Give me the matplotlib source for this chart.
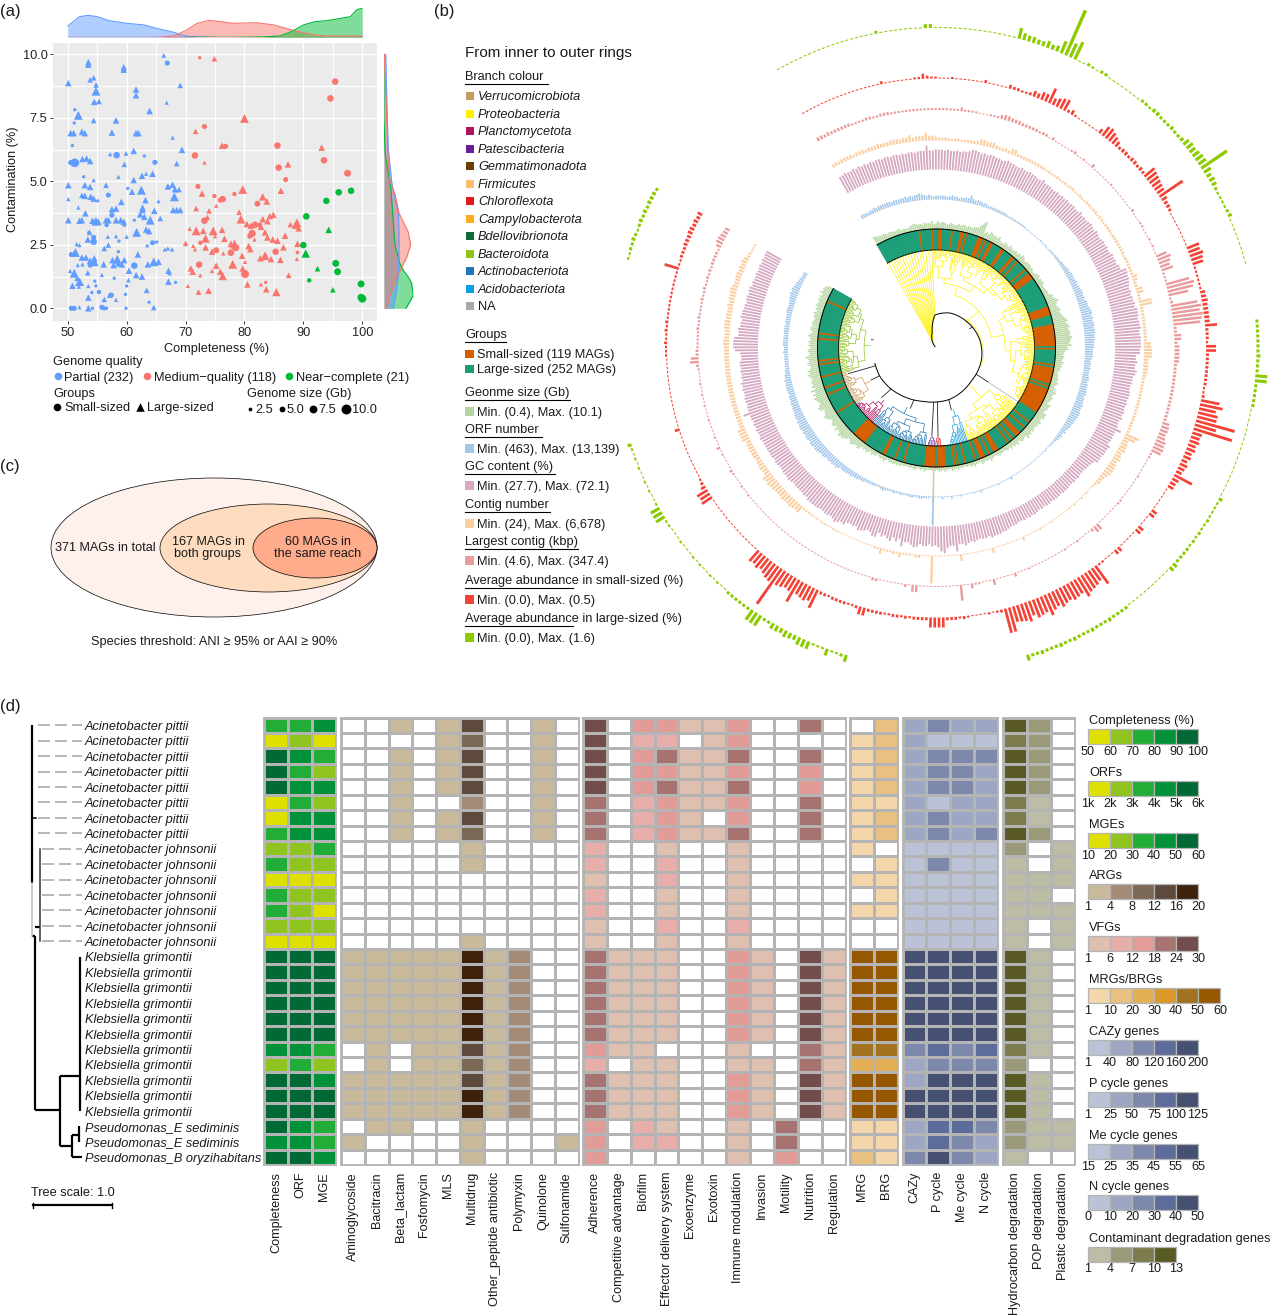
import itertools
import numpy as np
import matplotlib
matplotlib.use('Agg')
import matplotlib.pyplot as plt
from matplotlib.collections import LineCollection
from matplotlib.colors import ListedColormap, BoundaryNorm
from matplotlib.patches import Ellipse, Rectangle

plt.rcParams['font.family'] = ['Liberation Sans', 'DejaVu Sans']
W, H = 1270, 1315

# ---------- panel (a) data: x completeness, y contamination, s genome size (Gb) ----------
partial_tri_x = [53.5,53.5,53.8,54.4,54.8,54.8,54.5,55.3,50.1,59.5,59.5,61.6,61.6,66.3,69.1,66.8,63.9,51.8,54.4,58.2,57.5,50.5,51,52.4,52.9,61.6,62,67.8,69.4,61.2,59.9,57.2,52.5,53.2,53.8,68.5,59.6,58.6,54.4,61.2,62.6,63.3,64.4,50.1,52.9,53.8,56.5,52.4,52.9,53.9,54.4,50.1,60.9,62.5,67,67.8,68.2,68.9,68.1,63.2,65.4,59.1,51.8,53,57.5,58.2,62.7,62.7,64.7,67.9,68.5,69.1,63,62.3,64,65.7,50.1,52,52.4,54.2,54.8,55.2,56.5,56.9,58.2,59,59.5,59.6,53.7,61.7,63.3,63.8,53.4,58.2,56.8,60,51.5,52,56.9,56.2,66.5,67,67.7,51.3,61.9,52.4,53.1,53.8,54.5,54.5,52.5,51.7,56.1,57.6,57.8,58.4,58.6,59.6,59.2,63.6,64.6,65.4,60.4,67.1,67.3,50.4,51.1,53.4,55.8,61.6,62.6,60.3,51.6,52,50.8,51.9,53.5,67.1,63.4,57.1,56.2,58.2,53.5,52,53.5,64.6,68.5]
partial_tri_y = [9.7,9.6,9,9.08,8.8,8.55,8.13,8.15,8.87,9.5,9.4,8.62,8.39,9.96,8.78,8.1,7.77,7.6,7.4,7.4,6.92,6.9,6.9,6.95,6.9,6.9,6.9,6.72,6.24,6.2,6.1,6.07,5.88,5.9,5.8,5.7,5.67,5.18,5.05,5.05,5.22,5.3,5.3,4.85,4.85,4.78,4.85,4.45,4.43,4.39,4.32,4.3,4.59,4.65,4.8,4.87,4.69,4.68,4.39,4.26,4.22,4.19,3.97,3.74,3.9,3.93,3.96,3.87,3.84,3.87,3.87,3.87,3.6,3.7,3.47,3.54,3.47,3.45,3.47,3.45,3.43,3.41,3.47,3.47,3.47,3.47,3.41,3.3,2.99,2.99,3.1,3.04,2.71,2.84,2.82,2.82,2.53,2.49,2.49,2.36,2.32,2.36,2.32,2.2,2.12,2,2,1.87,1.97,1.83,1.73,1.7,1.73,1.9,1.7,1.93,1.77,1.9,1.73,1.73,1.83,1.83,1.48,1.48,1.38,1.47,1.38,1.4,1.31,1.31,1.25,1.11,1.18,1.05,.89,.85,.88,1.05,.71,.52,.35,.33,.42,.04,0,.03,0]
partial_tri_s = [5,5,4,4,4,7.5,5,4,5,5,5,5,5,3,4,2.5,5,7.5,4,5,5,5,5,5,5,5,5,2.5,5,5,3,2.5,5,5,5,4,4,2.5,2.5,5,5,2.5,5,5,5,5,4,4,5,5,5,2.5,5,7.5,5,5,5,4,7.5,5,2.5,5,2.5,5,5,5,5,5,5,5,5,5,5,5,7.5,4,5,5,5,5,7.5,5,5,5,5,5,5,2.5,4,7.5,5,5,5,2.5,2.5,2.5,2.5,2.5,4,4,2.5,2.5,2.5,7.5,5,5,5,5,5,7.5,2.5,2.5,5,5,5,7.5,5,5,5,5,7.5,5,5,5,2.5,2.5,7.5,4,2.5,5,5,3,4,7.5,5,2.5,2.5,5,4,4,4,2.5,5,2.5,5,4]
partial_dot_x = [66.9,51.2,51.1,50.8,58.3,63,50.5,51.2,50.9,64.8,52.7,56.9,60.2,55.1,57.5,61.3,56.6,54.4,54.4,64.4,65.1,58.7,63.5,58.6,50.6,61.3,53.8,57.9,54.6,68.3,60,54.8,54.1,55.3,57.4,59.8,63.8,50.6,51.1,54.2,55.8,56.2,56.6,59.9,53.6]
partial_dot_y = [9.66,7.82,7.3,6.41,6.03,6,5.74,5.73,5.73,5.75,5.18,4.46,4.72,4.23,3.67,3.47,3.28,2.79,2.62,2.58,2.61,2.65,2.45,2.23,2.12,1.68,1.7,1.18,1.07,1.02,.88,.88,.62,.64,.52,.55,.24,0,0,0,.04,0,0,0,2.99]
partial_dot_s = [5,2.5,2.5,2.5,7,2.5,5,10,5,5,2.5,5,2.5,2.5,5,2.5,4,5,7,5,2.5,2.5,2.5,2.5,5,7,5,2.5,2.5,2.5,2.5,2.5,2.5,4,5,2.5,2.5,5,5,2.5,5,4,2.5,2.5,2.5]
medium_tri_x = [74.9,80,71.7,76.2,93.1,73.2,87.4,79.7,86.2,72.8,83.1,83.8,75.2,71.8,74,79.1,84.9,84.3,73.7,79.4,83.1,83.9,87.8,88.9,88.6,80.4,81.1,82.8,89.2,70.7,71.8,73,74.7,76.2,83.5,83.9,75,73.4,76.6,81.7,84.8,85.6,86.9,70,71.3,77.7,78.3,89,80.7,86.6,73.4,71.6,81,74.5,75.3,76.4,79.6,83.5,82.7,84.5,86.1,88.9,80.1,78,75.2,79.7,70.9,71.2,74.5,75.9,76.3,72.5,87.5,80.5,82.8,70.4,83.7,73.9,72.2,85.4]
medium_tri_y = [9.83,7.48,6.97,6.41,6.33,5.74,5.67,4.68,4.63,4.52,4.39,4.21,4.04,3.93,3.84,3.79,3.68,3.63,3.58,3.51,3.51,3.43,3.3,3.37,3.25,3.32,3.25,3.21,3.15,3.13,3.05,3.05,3.05,3.09,2.99,2.79,2.84,2.75,2.74,2.71,2.71,2.66,2.86,2.56,2.46,2.54,2.53,2.54,2.45,2.4,2.4,2.32,2.33,2.23,2.29,2.16,2.07,2.07,1.97,1.94,1.91,1.94,1.83,1.73,1.68,1.57,1.57,1.44,1.47,1.44,1.27,1.3,1.3,.94,.94,.88,.75,.69,.64,.64]
medium_tri_s = [4,7.5,4,5,5,2.5,5,7.5,5,5,6,5,2.5,4,4,4,5,5,4,7.5,5,5,4,7.5,5,5,5,5,5,2.5,7.5,5,7.5,5,5,5,2.5,7,5,2.5,5,5,5,4,2.5,5,7.5,5,5,5,5,2.5,5,5,2.5,2.5,5,7.5,5,5,5,2.5,2.5,7.5,5,5,5,5,2.5,5,7,2.5,4,5,2.5,2.5,5,5,4,7]
medium_dot_x = [72.4,95.4,94.6,73.2,76.8,85.6,71.6,93.5,85.8,97.5,87,72.1,74.9,78.3,75.9,76.3,82.2,73.2,81.8,82.6,81.3,80.9,72.5,78.5,77.7,75.2,85.3,89,72.3,80.1,83.6]
medium_dot_y = [9.87,8.93,8.27,7.16,6.38,6.41,6.02,5.83,5.54,5.32,5.07,4.8,4.42,4.5,4.26,4.3,4.12,3.45,3.29,3.28,2.95,2.84,2.58,2.39,2.19,2.29,2.23,2.2,1.72,1.35,1.02]
medium_dot_s = [2.5,7,7,5,5,7,7,7,7,7.5,5,5,4,4,5,7,6,7,7,5,8,5,4,8,7,6,7,3,7,9,2.5]
near_dot_x = [96,98.1,93.9,90.5,90,95.5,95.8,91,99.8,99.8,100]
near_dot_y = [4.57,4.63,4.23,3.62,2.49,1.77,1.44,1.1,.96,.43,.38]
near_dot_s = [7,7,7,7,7,7.5,7.5,4,7.5,8,9]
near_tri_x = [94.3,90.4,92.4,95]
near_tri_y = [3.09,2.16,1.56,.73]
near_tri_s = [5,7,4,4]

top_partial_x = [50,52,53.5,55,57,60,63,65,67,68,70,72,75]
top_partial_d = [34,62,66,62,50,42,37,27,19,15,4,1,0]
top_medium_x = [50,64,66,68,70,72,74,76,78,82,85,88,90,92,94,100]
top_medium_d = [0,0,1,4,20,42,51,47,42,44,37,22,14,7,4,4]
top_near_x = [70,78,83,86,88,90,92,94,96,98,99,100]
top_near_d = [0,0,1,4,17,37,47,50,56,62,82,88]
right_y = [0,.5,1,1.25,1.5,1.75,2,2.5,3,3.75,4.5,5,6,6.25,7.5,10]
right_partial_d = [28,35,40,43,44,44,45,45,45,43,30,23,15,13,10,5]
right_medium_d = [8,18,32,38,50,58,68,80,73,45,33,18,12,11,8,1]
right_near_d = [66,88,83,72,58,48,43,33,30,26,22,18,4,3,0,0]

# ---------- panel (b) ring data (one value per leaf, clockwise) ----------
genome_size = [9,8,7,7,6,7,6,5,6,6,5,5,5,6,5,4,5,4,4,5,6,7,7,6,6,6,5,7,6,6,6,8,5,6,8,6,7,7,6,5,
 6,7,6,5,6,7,6,7,7,6,7,7,6,8,8,9,12,15,17,6,8,6,9,9,7,8,7,9,6,5,5,7,6,5,8,6,5,6,7,5,
 7,6,8,7,5,5,6,6,6,5,6,4,4,5,6,7,5,6,6,7,5,4,5,5,6,5,7,9,8,10,12,10,8,9,10,11,9,10,11,12,
 14,15,13,15,16,14,15,16,15,17,16,15,14,16,12,13,10,9,8,9,8,7,9,7,8,6,7,5,5,6,6,7,6,8,6,5,7,6,9,7,
 6,8,7,6,5,9,8,8,7,6,10,9,10,7,8,10,8,9,7,8,9,7,9,8,10,6,7,8,7,5,8,6,7,5,7,5,6,5,4,5,
 5,6,5,4,4,5,7,4,5,4,5,6,3,4,4,6,4,5,3,4,3,3,4,3,5,3,4,5,3,3,4,5,3,4,5,3,4,36,4,3,
 3,4,5,3,4,3,3,5,4,3,4,3,3,4,3,5,4,5,4,5,4,5,3,4,6,4,5,4,3,5,5,6,4,5,7,5,6,5,8,9,
 7,8,9,10,8,7,9,10,12,11,13,10,9,12,8,10,11,9,8,10,12,13,11,10,9,13,14,12,10,11,12,14,11,13,10,14,9,12,10,11,
 10,9,11,13,10,12,9,8,10,11,9,10,12,9,8,10,9,7,9,8,9,7,8,10,8,6,8,9,7,8,8,7,6,8,7,9,6,8,7,9,
 8,7,9,8,9,7,10,8,9,8,6]
orf_number = [4,4,4,3,4,4,5,4,5,5,5,5,5,5,4,5,5,5,5,5,6,5,6,5,6,6,7,6,5,4,5,4,3,4,4,4,4,4,3,4,
 5,4,4,3,4,4,5,5,8,5,4,5,5,4,4,4,3,3,3,3,3,3,3,3,3,2,2,2,2,2,2,2,2,2,2,1,1,1,1,1,
 1,1,1,2,1,1,2,1,1,2,2,2,3,3,3,3,4,4,4,5,5,5,6,6,6,6,7,6,7,7,8,8,7,8,7,9,9,9,10,11,
 11,10,11,10,11,11,10,11,11,10,10,10,9,9,9,8,8,8,8,7,6,7,6,7,6,6,6,7,7,6,7,7,7,8,8,7,8,8,8,9,
 8,8,9,9,9,8,8,8,7,7,6,5,6,4,5,4,4,3,2,2,2,1,1,2,1,1,1,1,1,1,1,1,1,1,1,1,1,1,1,1,
 1,1,3,1,1,1,1,1,2,1,1,1,1,1,1,1,3,1,1,2,1,1,1,1,1,2,1,1,1,3,1,1,1,3,1,1,1,29,1,2,
 2,2,3,3,2,2,3,3,2,2,2,3,2,2,3,2,2,2,3,4,3,2,2,3,3,3,3,3,4,4,4,5,5,5,6,5,6,6,6,5,
 7,8,7,8,7,8,7,8,9,8,9,10,10,9,10,10,9,10,10,9,10,9,10,10,9,10,8,9,9,8,8,8,7,8,7,7,7,6,7,7,
 7,7,6,7,6,6,5,5,4,4,4,4,4,4,4,5,4,4,5,5,5,5,4,5,5,5,5,4,5,5,5,5,6,6,6,5,6,6,7,7,
 8,7,8,7,6,6,5,5,4,4,4]
gc_content = [18,18,19,18,18,19,18,19,18,19,18,19,18,19,19,18,19,19,18,19,19,18,19,18,19,19,18,19,19,19,24,19,19,20,20,20,19,20,19,19,
 20,19,20,20,21,23,23,22,21,22,21,22,22,21,21,20,21,22,21,21,20,20,21,20,20,21,20,20,19,19,21,19,19,19,18,18,19,18,19,18,
 19,18,19,19,18,18,20,18,19,18,19,20,19,18,20,19,18,19,20,19,20,19,19,21,20,21,20,22,22,27,27,26,26,25,24,23,24,23,24,24,
 25,24,26,26,26,25,26,26,27,25,25,26,26,26,26,25,25,21,21,23,21,21,23,22,20,20,20,19,19,20,20,20,19,20,19,19,20,19,20,18,
 18,19,24,19,19,19,19,18,21,20,20,20,19,19,19,16,15,14,14,13,13,13,14,13,14,13,13,14,14,14,13,14,14,14,13,14,14,13,14,13,
 14,15,14,15,14,15,14,14,15,15,15,16,17,17,18,18,18,19,17,18,18,17,18,19,18,19,21,19,19,26,20,20,22,27,25,21,19,20,18,20,
 20,18,21,22,20,18,18,23,16,19,16,20,18,16,18,15,20,20,17,16,18,19,20,17,18,17,18,21,20,22,23,21,20,21,21,20,20,21,21,21,
 21,21,19,20,19,19,19,19,18,19,20,19,19,19,18,18,19,19,18,19,19,19,19,19,19,19,20,19,19,20,19,20,19,20,20,26,20,20,19,20,
 20,19,19,20,19,20,18,19,18,19,18,19,19,17,17,18,23,25,25,25,24,20,20,21,19,19,18,20,19,19,18,18,17,18,18,17,18,18,16,17,
 16,16,17,16,16,17,16,17,16,17,17]
contig_number = [3,4,3,4,4,4,4,3,4,4,4,3,4,4,4,5,4,4,4,5,5,5,4,5,5,7,4,5,5,5,8,5,5,4,3,3,3,3,2,3,
 3,2,3,3,3,3,4,6,6,5,5,6,4,3,3,4,3,6,6,3,3,3,3,3,3,3,3,3,3,2,3,2,2,3,2,2,3,2,3,3,
 2,2,3,2,2,3,3,2,3,3,2,3,3,2,3,3,3,2,3,3,3,3,3,3,3,2,3,3,3,3,3,3,6,5,3,3,7,7,3,3,
 13,13,3,3,3,3,3,3,3,3,3,3,3,7,7,8,8,8,5,5,5,5,5,4,3,3,3,3,3,3,3,3,3,3,3,3,3,3,3,3,
 3,3,15,12,6,7,7,8,6,7,8,6,7,8,8,8,6,5,4,5,3,2,1,1,2,1,2,1,1,2,1,2,1,1,1,1,1,1,2,1,
 1,1,2,1,1,1,1,1,4,1,1,1,1,1,1,1,1,1,5,1,1,1,1,1,1,1,1,1,7,1,1,1,1,1,1,1,1,28,1,1,
 1,3,3,1,2,2,2,5,2,3,2,2,2,6,2,2,1,1,1,1,1,1,1,1,1,1,1,1,2,2,1,1,2,2,1,2,1,2,2,2,
 2,8,7,8,9,8,8,9,8,8,8,9,9,10,9,10,6,6,7,6,6,5,6,6,6,6,6,5,8,8,8,8,5,5,5,5,5,5,5,5,
 5,5,5,5,5,5,5,5,5,5,5,5,5,5,5,5,5,5,6,6,5,5,5,6,6,6,5,6,5,5,6,5,6,6,7,7,6,5,5,6,
 6,5,6,5,6,5,3,3,2,2,2]
largest_contig = [4,4,3,4,3,3,3,3,3,3,2,2,2,2,3,3,2,2,3,3,3,2,2,2,2,2,2,2,2,2,2,2,2,2,2,2,2,2,2,2,
 4,2,2,2,2,1,1,1,2,2,2,4,5,5,4,4,4,3,3,3,3,3,2,3,3,1,3,1,1,1,1,1,2,3,1,1,2,1,1,4,
 1,1,1,1,1,1,2,1,1,1,1,1,1,1,1,3,1,1,1,2,2,1,1,1,2,1,2,1,1,11,14,12,10,12,2,2,2,24,28,26,
 20,2,3,27,30,28,31,29,27,3,3,7,7,3,5,5,5,5,5,3,3,3,3,3,3,3,3,3,3,3,3,3,3,3,3,7,8,8,7,8,
 10,10,11,10,2,2,1,1,1,1,1,2,1,1,1,1,1,1,1,2,2,1,1,1,1,1,1,1,7,7,3,1,1,1,1,2,1,1,1,2,
 1,1,1,1,1,1,1,1,1,1,2,1,1,1,4,1,1,1,1,1,6,1,1,1,2,2,5,1,1,16,1,1,1,1,1,1,1,1,1,1,
 1,7,7,1,3,1,1,1,1,1,1,1,3,3,1,1,1,1,1,1,1,1,1,1,1,1,1,1,1,1,1,1,1,1,1,1,1,1,1,1,
 1,1,1,1,1,1,1,1,1,1,1,1,1,1,2,1,1,2,1,1,1,2,3,1,1,1,1,2,1,4,1,1,2,1,1,1,1,2,1,1,
 1,2,1,1,2,1,1,2,1,1,1,2,3,9,8,3,3,2,2,2,2,2,3,2,2,3,2,2,2,2,3,2,2,3,2,2,3,2,3,2,
 3,3,3,3,2,5,7,7,6,5,5]
abund_small = [1,1,1,1,1,1,1,1,1,1,1,1,1,1,1,1,1,1,1,1,3,1,1,1,1,1,1,1,2,2,5,3,2,2,1,1,1,2,1,1,
 1,1,1,1,1,3,1,1,1,1,1,4,3,3,2,2,3,6,5,8,8,16,7,9,11,12,3,5,2,1,1,1,1,1,1,5,11,12,10,8,
 6,3,4,4,3,4,4,3,4,3,13,12,11,10,9,8,28,6,4,4,3,1,1,1,1,1,1,1,1,1,13,12,14,12,11,2,2,2,2,2,
 2,5,5,6,5,5,5,5,5,12,3,3,3,2,10,10,3,3,3,3,3,3,3,3,2,2,3,19,23,17,20,20,40,22,40,10,9,10,8,9,
 7,8,6,8,7,6,20,7,6,6,1,1,1,1,1,1,6,6,1,1,1,6,6,1,1,1,1,1,5,5,1,1,1,2,2,22,15,17,18,19,
 22,16,17,18,16,17,19,16,18,22,17,18,19,15,20,18,17,16,25,25,3,2,1,2,1,1,1,1,2,3,2,3,3,3,10,10,10,10,3,3,
 3,3,2,3,2,3,3,2,2,3,3,3,3,8,8,3,2,2,3,3,3,3,2,3,3,20,14,16,15,14,25,15,14,16,17,43,18,17,15,13,
 15,13,14,1,1,1,1,1,1,1,1,1,1,1,1,1,1,1,1,12,11,12,5,3,2,1,1,1,1,1,1,1,1,1,1,1,1,5,1,1,
 1,1,1,1,1,1,1,1,1,1,1,1,1,1,1,2,2,2,3,2,2,3,2,3,2,2,2,2,2,2,2,2,2,2,2,2,15,2,2,3,
 3,3,4,4,4,5,5,4,5,4,5]
abund_large = [1,1,1,1,1,1,1,1,1,1,1,1,1,1,1,1,1,1,1,1,1,3,1,1,1,1,1,1,1,1,1,4,4,1,1,1,1,1,1,1,
 1,1,1,1,1,1,1,1,1,1,11,7,6,6,5,5,7,5,6,13,49,15,19,1,1,3,2,1,3,3,1,1,1,1,1,1,1,1,3,3,
 2,4,4,3,3,3,4,3,3,4,7,8,7,8,9,9,31,8,5,6,5,3,2,2,2,2,3,4,1,1,1,1,1,1,1,1,1,1,0,0,
 0,0,0,0,0,0,0,0,0,3,3,3,3,3,3,3,4,3,3,3,12,12,3,3,3,3,3,1,1,1,1,1,1,1,1,1,1,1,1,1,
 1,1,1,1,1,1,4,2,2,2,2,3,2,2,3,2,3,2,3,3,3,3,5,5,1,1,1,1,1,1,1,1,1,1,1,3,3,3,3,4,
 3,3,3,4,3,3,3,4,3,3,4,3,3,3,4,3,3,6,0,0,0,0,0,0,0,0,0,0,0,0,0,0,0,0,0,0,0,0,0,0,
 0,0,0,0,0,0,0,0,0,0,0,0,0,0,7,3,2,2,7,2,2,2,8,8,8,5,6,7,5,6,6,3,3,12,12,12,3,3,3,3,
 3,3,1,1,2,1,2,1,1,2,1,2,1,1,1,2,1,1,1,2,2,10,10,10,2,1,1,2,1,2,1,1,2,1,2,1,2,4,0,0,
 0,0,0,0,0,0,0,0,0,0,0,0,0,0,0,0,0,0,0,0,0,0,0,0,0,0,0,0,0,0,0,0,0,0,0,2,2,3,3,4,
 3,2,3,4,3,4,3,4,4,4,3]
small_sized_leaves = [24,31,35,36,42,47,48,50,57,58,59,61,64,65,71,72,78,79,82,88,91,92,93,94,112,113,114,115,116,
 122,123,124,125,126,127,128,129,130,131,132,133,135,144,146,147,148,149,150,151,152,153,154,156,
 158,159,160,161,162,163,164,165,166,167,168,169,170,171,178,182,186,187,188,191,194,201,202,203,206,209,210,211,214,220,224,226,
 231,232,233,234,235,237,238,239,240,241,242,254,259,265,266,278,279,280,281,282,283,284,285,300,311,315,321,328,330,342,345,363]
backbone_theta = [-45,-16,-3,21,48,79,104.5,133.6,165.5,194,214.6,229.4,243.4,256]
backbone_r = [2,15.6,33,37.5,40,44,46.5,48,53,55,58.7,61.5,63.4,63.5]
clade_names = ['Proteobacteria','NA','Proteobacteria','Acidobacteriota','Chloroflexota','Patescibacteria','Actinobacteriota','Planctomycetota','Verrucomicrobiota','Firmicutes','Bacteroidota']
clade_first = [31,172,174,215,233,237,243,282,298,318,320]
clade_last = [170,172,214,226,236,241,281,297,317,319,370]
clade_root_r = [38,62,50,64,88,88,66,74,73,92,66]

# ---------- panel (d) data ----------
species = ['Acinetobacter pittii']*8 + ['Acinetobacter johnsonii']*7 + ['Klebsiella grimontii']*11 + ['Pseudomonas_E sediminis']*2 + ['Pseudomonas_B oryzihabitans']
cols_a = ['Completeness','ORF','MGE']
mat_a = [[3,3,4],[1,2,1],[5,4,3],[5,3,2],[5,4,4],[1,3,2],[1,4,4],[3,4,4],[2,2,3],[3,2,2],[1,1,1],[3,2,2],[3,2,1],[2,2,2],[1,1,1],
 [5,5,5],[5,5,5],[5,5,5],[5,5,5],[5,5,5],[5,5,5],[4,4,3],[2,3,2],[5,5,4],[5,5,5],[5,5,5],[5,4,3],[4,4,3],[5,5,4]]
cols_b = ['Aminoglycoside','Bacitracin','Beta_lactam','Fosfomycin','MLS','Multidrug','Other_peptide antibiotic','Polymyxin','Quinolone','Sulfonamide']
kp_b = [1,1,1,1,1,5,1,2,0,0]
mat_b = [[0,0,1,0,1,4,0,0,1,0],[0,0,0,0,1,3,0,0,1,0],[0,0,1,0,1,4,0,0,1,0],[0,0,1,0,1,4,0,0,1,0],[0,0,1,0,1,4,0,0,1,0],[0,0,1,0,0,2,0,0,1,0],[0,0,1,0,1,4,0,0,1,0],[0,0,1,0,1,3,0,0,1,0],
 [0,0,0,0,0,1,0,0,0,0],[0,0,0,0,0,1,0,0,0,0],[0]*10,[0]*10,[0]*10,[0]*10,[0,0,0,0,0,1,0,0,0,0],
 kp_b,kp_b,kp_b,kp_b,kp_b,kp_b,[0,1,0,1,1,4,1,2,0,0],[0,1,0,1,1,3,1,2,0,0],[1,1,1,1,1,4,1,2,0,0],kp_b,kp_b,
 [0,1,1,0,0,1,0,0,0,0],[1,0,0,0,0,1,0,0,0,1],[0,0,0,0,0,1,0,0,0,0]]
cols_c = ['Adherence','Competitive advantage','Biofilm','Effector delivery system','Exoenzyme','Exotoxin','Immune modulation','Invasion','Motility','Nutrition','Regulation']
kp_c = [4,1,1,1,0,0,3,1,0,5,1]
mat_c = [[5,0,3,3,1,1,3,0,0,4,0],[5,0,2,2,0,1,3,0,0,0,0],[5,0,3,4,1,1,4,0,0,4,0],[5,0,3,3,1,1,3,0,0,3,0],[5,0,3,4,1,1,4,0,0,3,0],[4,0,2,3,1,1,3,0,0,4,0],[4,0,2,3,1,0,3,0,0,4,0],[4,0,2,3,1,1,4,0,0,4,0],
 [2,0,0,1,0,0,1,0,0,0,0],[2,0,0,2,0,0,1,0,0,0,0],[1,0,0,2,0,0,1,0,0,0,0],[2,0,0,1,0,0,1,0,0,0,0],[2,0,0,1,0,0,1,0,0,0,0],[1,0,0,2,0,0,2,0,0,0,0],[1,0,0,1,0,0,1,0,0,0,0],
 kp_c,kp_c,kp_c,kp_c,kp_c,kp_c,[3,1,1,0,0,0,1,0,0,4,1],[2,0,1,1,0,0,1,1,0,4,1],kp_c,kp_c,kp_c,
 [3,0,2,1,0,0,1,0,4,0,0],[3,0,2,2,0,0,1,0,4,0,0],[3,0,0,0,0,0,1,0,3,0,0]]
cols_d = ['MRG','BRG']
mat_d = [[0,2],[1,2],[1,2],[1,2],[1,2],[1,1],[1,2],[1,2],[1,0],[0,1],[1,1],[0,1],[1,1],[0,0],[0,0],
 [6,6],[6,6],[6,6],[6,6],[6,6],[6,6],[5,5],[3,3],[6,6],[6,6],[6,6],[1,1],[1,1],[2,1]]
cols_e = ['CAZy','P cycle','Me cycle','N cycle']
mat_e = [[2,3,2,2],[2,1,1,1],[2,3,3,3],[2,3,3,2],[2,3,3,2],[2,1,2,2],[2,3,2,2],[2,3,2,3],[1,1,1,1],[1,3,1,1],[1,1,1,1],[1,1,1,1],[1,1,1,1],[1,1,1,1],[1,1,1,1],
 [5,5,5,5],[5,5,5,5],[5,5,5,5],[5,5,5,5],[5,5,5,5],[5,5,5,5],[3,4,3,4],[2,3,3,3],[2,5,5,5],[5,5,5,5],[5,5,5,5],[2,4,4,3],[2,4,3,2],[3,5,3,2]]
cols_f = ['Hydrocarbon degradation','POP degradation','Plastic degradation']
mat_f = [[4,2,0],[3,2,0],[4,2,0],[4,2,0],[4,2,0],[3,1,0],[3,1,0],[4,2,0],[2,0,1],[1,0,1],[1,1,1],[1,1,0],[1,1,1],[1,0,1],[1,0,1],
 [4,1,0],[4,1,0],[4,1,0],[4,1,0],[4,1,0],[4,1,0],[3,1,0],[2,0,0],[4,1,0],[4,1,0],[4,1,0],[2,1,1],[2,1,1],[1,0,0]]

pal_green = ['#DDE000','#8FC31F','#22AC38','#009139','#006934']
pal_arg = ['#C9BA9B','#A38B78','#7A6A55','#5E4A3C','#40210C']
pal_vfg = ['#DFBFAF','#E8AEAB','#E29C98','#A77370','#714E4C']
pal_mrg = ['#F3D6A9','#E8C07F','#E3AF55','#DC992A','#A3721F','#955800']
pal_blue = ['#BCC2D6','#9DA6C3','#7C89AD','#5D6C9B','#465071']
pal_olive = ['#BDBCA5','#9B9A78','#7C7C4F','#5A5A24']
legend_titles = ['Completeness (%)','ORFs','MGEs','ARGs','VFGs','MRGs/BRGs','CAZy genes','P cycle genes','Me cycle genes','N cycle genes','Contaminant degradation genes']
legend_ticks = [['50','60','70','80','90','100'],['1k','2k','3k','4k','5k','6k'],['10','20','30','40','50','60'],['1','4','8','12','16','20'],['1','6','12','18','24','30'],
 ['1','10','20','30','40','50','60'],['1','40','80','120','160','200'],['1','25','50','75','100','125'],['15','25','35','45','55','65'],['0','10','20','30','40','50'],['1','4','7','10','13']]
legend_pals = [pal_green,pal_green,pal_green,pal_arg,pal_vfg,pal_mrg,pal_blue,pal_blue,pal_blue,pal_blue,pal_olive]

C_PART, C_MED, C_NEAR = '#619CFF', '#F8766D', '#00BA38'
fig = plt.figure(figsize=(W/100, H/100), dpi=100, facecolor='white')

def rect(l, t, r, b):
    return [l/W, 1-b/H, (r-l)/W, (b-t)/H]

# full-figure layer in pixel units for text and legend keys
ov = fig.add_axes([0, 0, 1, 1], zorder=5)
ov.set_xlim(0, W); ov.set_ylim(H, 0); ov.axis('off'); ov.patch.set_alpha(0)
def T(x, y, s, size=9, ha='left', va='center', **k):
    k.setdefault('color', '#1a1a1a')
    return ov.text(x, y+1, s, fontsize=size, ha=ha, va=va, **k)

# ---------- (a) ----------
ax = fig.add_axes(rect(53, 43, 377, 321))
ax.set_facecolor('#EBEBEB')
for s in ax.spines.values():
    s.set_visible(False)
ax.set_xlim(47.5, 102.5); ax.set_ylim(-0.5, 10.45)
ax.set_xticks(np.arange(50, 101, 10)); ax.set_yticks([0, 2.5, 5, 7.5, 10])
ax.set_yticklabels(['0.0', '2.5', '5.0', '7.5', '10.0'])
ax.set_xticks(np.arange(55, 100, 10), minor=True); ax.set_yticks(np.arange(1.25, 10, 2.5), minor=True)
ax.grid(which='major', color='white', lw=1.0); ax.grid(which='minor', color='white', lw=0.7)
ax.set_axisbelow(True)
ax.tick_params(which='major', length=2.5, width=0.7, color='#333333', labelsize=9.2, labelcolor='#222222', pad=1.5)
ax.tick_params(which='minor', length=0)
def msize(g, tri=False):
    d = 1.5 + 0.72*np.asarray(g, float)
    if tri:
        d = d*1.28
    return (d*0.72)**2
for xs, ys, ss, c, m in [(partial_tri_x, partial_tri_y, partial_tri_s, C_PART, '^'), (partial_dot_x, partial_dot_y, partial_dot_s, C_PART, 'o'),
                         (medium_tri_x, medium_tri_y, medium_tri_s, C_MED, '^'), (medium_dot_x, medium_dot_y, medium_dot_s, C_MED, 'o'),
                         (near_tri_x, near_tri_y, near_tri_s, C_NEAR, '^'), (near_dot_x, near_dot_y, near_dot_s, C_NEAR, 'o')]:
    n = min(len(xs), len(ys), len(ss))
    ax.scatter(xs[:n], ys[:n], s=msize(ss[:n], m == '^'), c=c, marker=m, linewidths=0, zorder=3)

ax_top = fig.add_axes(rect(53, 8, 377, 37.3))
ax_top.set_xlim(47.5, 102.5); ax_top.set_ylim(0, 88); ax_top.axis('off')
for xs, ds, c in [(top_partial_x, top_partial_d, C_PART), (top_medium_x, top_medium_d, C_MED), (top_near_x, top_near_d, C_NEAR)]:
    ax_top.fill_between(xs, 0, ds, color=c, alpha=0.5, lw=0)
    ax_top.plot(xs, ds, color=c, lw=0.8)
    ax_top.plot([xs[0], xs[-1]], [0, 0], color=c, lw=0.8)
ax_right = fig.add_axes(rect(384, 43, 413.3, 321))
ax_right.set_ylim(-0.5, 10.45); ax_right.set_xlim(0, 88); ax_right.axis('off')
for ds, c in [(right_near_d, C_NEAR), (right_partial_d, C_PART), (right_medium_d, C_MED)]:
    ax_right.fill_betweenx(right_y, 0, ds, color=c, alpha=0.5, lw=0)
    ax_right.plot(ds, right_y, color=c, lw=0.8)

T(0, 10, '(a)', 12)
T(217, 348, 'Completeness (%)', 9.2, ha='center')
T(13, 178, 'Contamination (%)', 9.2, ha='center', rotation=90)
T(53, 361, 'Genome quality', 9.2)
for mx, tx, c, s in [(57.5, 64, C_PART, 'Partial (232)'), (147, 154, C_MED, 'Medium\u2212quality (118)'), (289, 296, C_NEAR, 'Near\u2212complete (21)')]:
    ov.scatter([mx], [376], s=30, c=c, linewidths=0)
    T(tx, 376.5, s, 9.2)
T(53, 393, 'Groups', 9.2)
ov.scatter([57], [407], s=30, c='k', linewidths=0); T(64, 407, 'Small-sized', 9.2)
ov.scatter([140], [407], s=38, c='k', marker='^', linewidths=0); T(147, 407, 'Large-sized', 9.2)
T(247, 393, 'Genome size (Gb)', 9.2)
for mx, tx, g, s in [(250, 255, 2.5, '2.5'), (282, 287, 5, '5.0'), (313, 318, 7.5, '7.5'), (346, 352, 10, '10.0')]:
    ov.scatter([mx], [408.5], s=msize(g)*1.3, c='k', linewidths=0)
    T(tx, 408.5, s, 9.2)

# ---------- (c) ----------
T(0, 465, '(c)', 12)
for l, t, r, b, c in [(51, 478, 377, 617, '#FEF1EC'), (160, 504, 377, 592, '#FDDCBF'), (253, 518, 377, 578, '#FFAC8C')]:
    ov.add_patch(Ellipse(((l+r)/2, (t+b)/2), r-l, b-t, fc=c, ec='k', lw=0.5))
T(105, 547, '371 MAGs in total', 9.1, ha='center')
T(208, 547, '167 MAGs in\nboth groups', 9.1, ha='center', linespacing=1.0)
T(318, 547, '60 MAGs in\nthe same reach', 9.1, ha='center', linespacing=1.0)
T(214, 641, 'Species threshold: ANI \u2265 95% or AAI \u2265 90%', 9.15, ha='center')

# ---------- (b) ----------
CX, CY, RMAX = 936.5, 348, 380
pol = fig.add_axes(rect(CX-RMAX, CY-RMAX, CX+RMAX, CY+RMAX), projection='polar', zorder=1)
pol.set_theta_zero_location('N'); pol.set_theta_direction(-1)
pol.set_ylim(0, RMAX); pol.axis('off'); pol.patch.set_alpha(0)
N_LEAF = 371
STEP = 330/N_LEAF
def th(i):
    return np.deg2rad(-30 + (np.asarray(i, float)+0.5)*STEP)
STRIP_IN, STRIP_OUT = 98, 119
rings = [(genome_size, 119, '#BBD9A8', .8), (orf_number, 148.5, '#A3C8EA', .68), (gc_content, 178.5, '#D6A8C2', .62),
         (contig_number, 207.5, '#FBCFA0', .66), (largest_contig, 238, '#EA9C9C', .62), (abund_small, 269.5, '#F44336', .62), (abund_large, 320, '#8CCB00', .62)]
for vals, base, c, w in rings:
    idx = np.arange(len(vals))
    pol.bar(th(idx), vals, bottom=base, width=np.deg2rad(STEP)*w, color=c, linewidth=0)
leaf_is_small = np.isin(np.arange(N_LEAF), small_sized_leaves)
strip_cols = np.where(leaf_is_small, '#D55F00', '#1B9E77')
pol.bar(th(np.arange(N_LEAF)), STRIP_OUT-STRIP_IN, bottom=STRIP_IN, width=np.deg2rad(STEP), color=strip_cols, edgecolor=strip_cols, linewidth=0.5)
arc_t = np.linspace(th(-0.5), th(N_LEAF-0.5), 700)
for rr in (STRIP_IN, STRIP_OUT):
    pol.plot(arc_t, np.full_like(arc_t, rr), color='k', lw=0.7)

clade_colours = {'Proteobacteria':'#FFF200','NA':'#AAAAAA','Acidobacteriota':'#1B9DD9','Chloroflexota':'#E31A1C','Patescibacteria':'#6A3D9A','Actinobacteriota':'#1F78B4',
                 'Planctomycetota':'#B0125F','Verrucomicrobiota':'#C79A5F','Firmicutes':'#F08A4B','Bacteroidota':'#8DC21F'}
split_cycle = itertools.cycle([0.5, 0.3, 0.62, 0.2, 0.45, 0.75, 0.35, 0.15])
step_cycle = itertools.cycle([0.3, 0.22, 0.15, 0.4, 0.2, 0.28, 0.35])
def arc(a, b, r):
    n = max(2, int(abs(np.rad2deg(b-a)))+2)
    t = np.linspace(a, b, n)
    return np.column_stack([t, np.full(n, r)])
def grow(lo, hi, r_parent, segs):
    if lo == hi:
        t = float(th(lo))
        segs.append([(t, r_parent), (t, STRIP_IN)])
        return t
    m = lo + int((hi-lo)*next(split_cycle))
    r = r_parent + (STRIP_IN-r_parent)*next(step_cycle)
    a = grow(lo, m, r, segs); b = grow(m+1, hi, r, segs)
    segs.append(arc(a, b, r))
    t = (a+b)/2
    segs.append([(t, r_parent), (t, r)])
    return t
# ladder-like fan of Proteobacteria close to the tree root
fan_segs = []
for i in range(0, 31, 2):
    t = float(th(i))
    r0 = np.interp(-40.0 + i*1.2, backbone_theta, backbone_r)
    fan_segs.append([(t, r0), (t, STRIP_IN)])
pol.add_collection(LineCollection(fan_segs, colors='#FFF200', linewidths=0.5))
black_segs = []
for name, lo, hi, r0 in zip(clade_names, clade_first, clade_last, clade_root_r):
    segs = []
    grow(lo, hi, r0, segs)
    pol.add_collection(LineCollection(segs, colors=clade_colours[name], linewidths=0.5))
    t = float(th((lo+hi)/2))
    rb = np.interp(np.rad2deg(t), backbone_theta, backbone_r)
    black_segs.append([(t, rb), (t, r0)])
pol.add_collection(LineCollection(black_segs, colors='#222222', linewidths=0.6))
bb_tt = np.linspace(-45, 256, 400)
pol.plot(np.deg2rad(bb_tt), np.interp(bb_tt, backbone_theta, backbone_r), color='k', lw=0.7)
pol.plot(np.deg2rad(bb_tt[120:210]), np.interp(bb_tt[120:210], backbone_theta, backbone_r)+1.5, color='#FFF200', lw=0.5)
pol.set_ylim(0, RMAX)

T(434, 10, '(b)', 12)
T(465, 52, 'From inner to outer rings', 10.95)
def head(y, s, x1):
    T(465, y, s, 9.15)
    ov.plot([465, x1], [y+7.5, y+7.5], color='k', lw=0.8)
head(76, 'Branch colour', 548)
phyla = ['Verrucomicrobiota','Proteobacteria','Planctomycetota','Patescibacteria','Gemmatimonadota','Firmicutes','Chloroflexota','Campylobacterota','Bdellovibrionota','Bacteroidota','Actinobacteriota','Acidobacteriota','NA']
phylum_colours = ['#C79A5F','#FFF200','#B0125F','#6A1B9A','#6B3E06','#FDBF6F','#E31A1C','#FDAE1A','#0B6B3A','#8DC21F','#1F78B4','#0B9FE0','#AAAAAA']
phylum_y = [96,114,131,149,166,184,201,219,236,254,271,289,306]
for nm, c, y in zip(phyla, phylum_colours, phylum_y):
    ov.add_patch(Rectangle((466, y-4), 8, 8, fc=c, ec='none'))
    T(478, y, nm, 9.15, style='normal' if nm == 'NA' else 'italic')
head(334, 'Groups', 506)
for y, c, s in [(354, '#D55F00', 'Small-sized (119 MAGs)'), (369, '#1B9E77', 'Large-sized (252 MAGs)')]:
    ov.add_patch(Rectangle((465, y-4), 9, 8, fc=c, ec='none'))
    T(477, y, s, 9.15)
ring_legend = [(392, 'Geonme size (Gb)', 570, '#B5D6A0', 'Min. (0.4), Max. (10.1)'), (429, 'ORF number', 542, '#A3C8EA', 'Min. (463), Max. (13,139)'),
               (466, 'GC content (%)', 555, '#D6A8C2', 'Min. (27.7), Max. (72.1)'), (504, 'Contig number', 550, '#FBCFA0', 'Min. (24), Max. (6,678)'),
               (541, 'Largest contig (kbp)', 578, '#EA9C9C', 'Min. (4.6), Max. (347.4)'), (580, 'Average abundance in small-sized (%)', 573, '#F44336', 'Min. (0.0), Max. (0.5)'),
               (618, 'Average abundance in large-sized (%)', 573, '#8CCB00', 'Min. (0.0), Max. (1.6)')]
for y, s, x1, c, mm in ring_legend:
    head(y, s, x1)
    ov.add_patch(Rectangle((465, y+15), 9, 8.5, fc=c, ec='none'))
    T(477, y+19.5, mm, 9.15)

# ---------- (d) ----------
T(0, 705, '(d)', 12)
TOP, BOT = 717.5, 1165
groups = [(264, 336, cols_a, mat_a, pal_green), (341, 578.5, cols_b, mat_b, pal_arg), (583, 845.5, cols_c, mat_c, pal_vfg),
          (850, 898, cols_d, mat_d, pal_mrg), (902.5, 998, cols_e, mat_e, pal_blue), (1003, 1075, cols_f, mat_f, pal_olive)]
for l, r, cols, mat, pal in groups:
    a = fig.add_axes(rect(l, TOP, r, BOT), zorder=2)
    arr = np.array(mat)
    cmap = ListedColormap(['white']+pal)
    norm = BoundaryNorm(np.arange(-0.5, len(pal)+1), cmap.N)
    a.pcolormesh(np.arange(arr.shape[1]+1), np.arange(arr.shape[0]+1), arr, cmap=cmap, norm=norm, edgecolors='#B4B4B4', linewidth=0.85)
    a.set_ylim(arr.shape[0], 0); a.set_xlim(0, arr.shape[1])
    a.set_yticks([])
    a.set_xticks(np.arange(arr.shape[1])+0.5)
    a.set_xticklabels(cols, rotation=90, ha='center', va='top', fontsize=9.07, color='#1a1a1a')
    a.tick_params(axis='x', length=0, pad=5)
    for s in a.spines.values():
        s.set_color('#B4B4B4'); s.set_linewidth(1.3)

row_h = (BOT-TOP)/len(species)
for i, sp in enumerate(species):
    T(85, TOP+row_h*(i+0.5)+0.7, sp, 9.2, style='italic')
    if i < 15:
        x0 = 38 if i < 8 else 42
        ov.plot([x0, 82], [TOP+row_h*(i+0.5)]*2, color='#AAAAAA', lw=1.2, ls=(0, (7.2, 3)))
# cladogram of panel (d)
row = lambda k: TOP+row_h*(k+0.5)
tree_lines = [([31.7, 31.7], [row(0), 883]), ([31.7, 35], [936, 936]), ([35, 35], [936, 1110]), ([35, 40], [926.7, 926.7]),
              ([35, 60], [1110, 1110]), ([60, 60], [1075.7, 1145.7]), ([60, 80], [1075.7, 1075.7]), ([80, 80], [row(15), row(25)]),
              ([60, 71.7], [1145.7, 1145.7]), ([71.7, 71.7], [1135, row(28)]), ([71.7, 79], [1135, 1135]), ([79, 79], [row(26), row(27)]), ([71.7, 82], [row(28), row(28)])]
for xs, ys in tree_lines:
    ov.plot(xs, ys, color='k', lw=1.6, solid_capstyle='butt')
ov.plot([40, 40], [row(8), row(14)], color='#333333', lw=1.1)
ov.plot([31.7, 31.7], [883, 936], color='#BBBBBB', lw=1.1)
ov.plot([33, 36], [row(6), row(6)], color='k', lw=1.1)
T(31, 1192, 'Tree scale: 1.0', 9.2)
ov.plot([33, 112], [1205, 1205], color='k', lw=1.6)
for x in (33, 112):
    ov.plot([x, x], [1202.5, 1207.5], color='k', lw=1)

title_y = [720, 772, 824, 875, 927, 979, 1031, 1083, 1135, 1186, 1238]
CELL = 22
for ttl, ticks, pal, y in zip(legend_titles, legend_ticks, legend_pals, title_y):
    T(1089, y, ttl, 9.15)
    yt = y+9
    for k, c in enumerate(pal):
        ov.add_patch(Rectangle((1088+k*CELL, yt), CELL, 15, fc=c, ec='#B4B4B4', lw=0.9))
    for k, s in enumerate(ticks):
        T(1088+k*CELL, yt+21.5, s, 9.1, ha='center')

fig.savefig('out.png', dpi=100, facecolor='white')
